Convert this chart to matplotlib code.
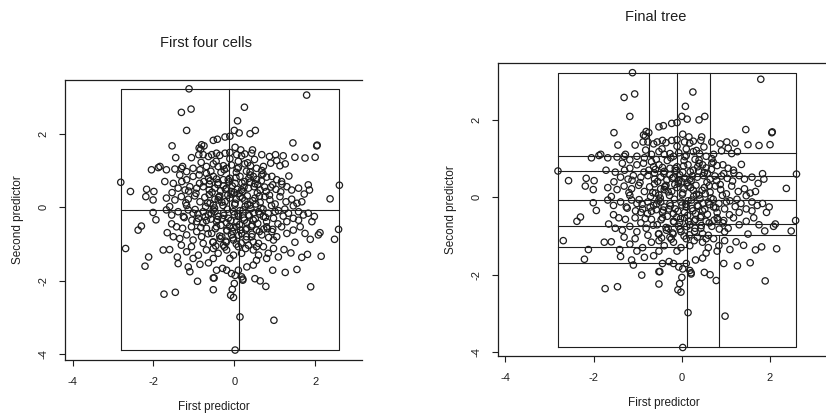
import matplotlib
matplotlib.use("Agg")
import matplotlib.pyplot as plt

# points (same sample in both panels)
x_out = [-1.12, 1.79, -1.31, -1.07, 0.25, 0.08, -1.18, 0.52, 0.39, 0.00, 0.12, -0.11, -0.23, -1.54, 1.45,
         2.04, 2.05, -0.52, -0.42, -0.81, -0.87, -1.45, -1.06, 1.50, 1.75, 2.00, 1.02, 1.21, 0.87, -2.05,
         -1.88, -1.84, -1.72, -1.31, -1.28, -2.81, -2.57, -2.17, -2.19, -1.99, -2.01, -1.54, 2.37, 2.60,
         1.83, 1.86, 1.73, -2.01, -1.94, -2.30, -2.38, -2.69, -2.12, -2.21, -1.76, -1.60, -1.66, -1.43,
         -1.41, -1.39, -1.14, -1.10, -1.74, -1.46, -0.91, -0.52, -0.50, -0.52, -0.05, -0.09, -0.02, 0.00,
         0.21, 0.21, 0.51, 0.64, 0.78, 0.14, 0.98, 0.02, 1.89, 0.95, 1.26, 1.55, 2.15, 1.67, 1.81, 1.40,
         1.23, 2.12, 2.08, 2.48, 2.58, 1.88, 1.92, 1.98]
y_out = [3.22, 3.05, 2.58, 2.67, 2.72, 2.35, 2.09, 2.09, 2.00, 2.09, 2.02, 1.93, 1.91, 1.67, 1.75,
         1.67, 1.69, 1.82, 1.85, 1.70, 1.61, 1.35, 1.35, 1.36, 1.34, 1.36, 1.43, 1.40, 1.38, 1.02,
         1.08, 1.11, 0.70, 1.06, 1.11, 0.68, 0.43, 0.49, 0.29, 0.43, 0.20, 0.40, 0.23, 0.60,
         0.61, 0.47, 0.36, -0.14, -0.34, -0.51, -0.62, -1.12, -1.35, -1.60, -1.16, -1.15, -0.69, -0.53,
         -1.35, -1.53, -1.62, -1.75, -2.36, -2.31, -2.01, -1.92, -1.92, -2.24, -2.23, -2.39, -2.45, -2.07,
         -1.98, -1.95, -1.94, -2.00, -2.15, -2.98, -3.07, -3.88, -2.16, -1.71, -1.77, -1.69, -1.33, -1.36,
         -1.28, -1.24, -1.15, -0.69, -0.75, -0.87, -0.60, -0.87, -0.39, -0.25]

x_core = [-0.83, -0.75, 0.02, 0.16, 0.45, -0.88, -0.77, -0.64, -0.56, -0.44, -0.36, -0.23, -0.11, 0.06, 0.18,
          0.26, 0.43, 0.68, -1.68, -1.47, -1.18, -1.02, -0.85, -0.69, -0.52, -0.40, -0.27, -0.19, -0.07, 0.10,
          0.26, 0.40, 0.55, 0.72, 0.90, 1.05, 1.13, 1.26,
          -1.35, -1.18, -1.02, -0.87, -0.75, -0.64, -0.52, -0.40, -0.27, -0.11, 0.02, 0.14, 0.26, 0.39, 0.55,
          0.68, 0.80, 0.93, 1.05, 1.17, 1.30, 1.42, 1.59, -1.51, -1.39, -1.22, -1.10, -0.93, -0.77, -0.62,
          -0.48, -0.34, -0.19, -0.07, 0.07, 0.21, 0.35, 0.49, 0.64, 0.79, 0.90, 1.03,
          -1.68, -1.47, -1.31, -1.14, -0.98, -0.85, -0.73, -0.60, -0.48, -0.36, -0.23, -0.11, 0.02, 0.14, 0.26,
          0.39, 0.51, 0.64, 0.76, 0.88, 1.01, 1.13, 1.28, 1.42, 1.55, 1.67, 1.46, -0.52, -1.18, -1.60,
          -1.68, -1.55, -1.39, -1.26, -1.14, -1.02, -0.89, -0.77, -0.64, -0.52, -0.40, -0.27, -0.15, -0.02,
          0.10, 0.22, 0.35, 0.47, 0.60, 0.72, 0.84, 0.97, 1.09, 1.21, 1.34, 1.46, 1.59, 1.71, 1.83, -0.93,
          -0.69, -0.44, -0.19, 0.06, 0.31, 0.80, 1.30, 1.59,
          -1.51, -1.28, -1.18, -1.06, -0.93, -0.81, -0.69, -0.56, -0.44, -0.31, -0.19, -0.07, 0.06, 0.18,
          0.31, 0.43, 0.55, 0.68, 0.80, 0.93, 1.05, 1.17, 1.30, 1.46, 1.63, 1.75, -1.02, -0.52, -0.02, 0.47,
          0.97,
          -1.31, -1.18, -1.06, -0.89, -0.77, -0.69, -0.52, -0.40, -0.27, -0.19, -0.02, 0.10, 0.18, 0.35, 0.47,
          0.60, 0.72, 0.84, 0.97, 1.09, -1.02, -0.52, -0.11, 0.55, 0.80,
          -0.85, -0.64, -0.44, -0.29, -0.19, -0.07, 0.02, 0.10, 0.18, 0.31, 0.47]
y_core = [1.58, 1.67, 1.63, 1.56, 1.56, 1.43, 1.43, 1.38, 1.43, 1.47, 1.41, 1.47, 1.49, 1.43, 1.40,
          1.45, 1.47, 1.43, 1.02, 1.04, 0.97, 1.06, 1.02, 1.11, 1.18, 1.11, 1.13, 1.06, 1.15, 1.08,
          1.18, 1.13, 1.06, 1.11, 1.20, 1.27, 1.13, 1.18,
          0.88, 0.75, 0.84, 0.88, 0.70, 0.79, 0.84, 0.67, 0.75, 0.79, 0.65, 0.84, 0.70, 0.88, 0.76,
          0.88, 0.82, 0.84, 0.75, 0.70, 0.56, 0.47, 0.52, 0.65, 0.52, 0.47, 0.56, 0.52, 0.56, 0.47,
          0.52, 0.45, 0.52, 0.43, 0.49, 0.43, 0.52, 0.56, 0.47, 0.43, 0.55, 0.49,
          0.25, 0.20, 0.29, 0.22, 0.31, 0.15, 0.27, 0.11, 0.22, 0.31, 0.15, 0.25, 0.11, 0.29, 0.18,
          0.06, 0.25, 0.13, 0.29, 0.20, 0.09, 0.29, 0.15, 0.22, 0.11, 0.15, 0.04, 0.06, 0.05, 0.02,
          -0.07, -0.21, -0.12, -0.25, -0.07, -0.16, -0.30, -0.12, -0.21, -0.07, -0.25, -0.16, -0.30, -0.12,
          -0.25, -0.07, -0.21, -0.35, -0.12, -0.25, -0.16, -0.30, -0.09, -0.24, -0.16, -0.30, -0.12, -0.21,
          -0.16, -0.39, -0.36, -0.39, -0.42, -0.39, -0.42, -0.39, -0.39, -0.35,
          -0.80, -0.57, -0.75, -0.53, -0.66, -0.80, -0.57, -0.71, -0.53, -0.80, -0.62, -0.75, -0.53, -0.71,
          -0.57, -0.80, -0.62, -0.75, -0.53, -0.66, -0.80, -0.53, -0.71, -0.62, -0.53, -0.71, -0.89, -0.94,
          -0.89, -0.94, -0.89,
          -1.03, -1.21, -1.07, -1.30, -0.98, -1.16, -1.12, -1.25, -1.03, -1.16, -1.30, -1.07, -1.25, -1.03,
          -1.16, -1.30, -1.07, -1.25, -1.12, -1.35, -1.39, -1.39, -1.39, -1.44, -1.39,
          -1.55, -1.51, -1.71, -1.66, -1.71, -1.80, -1.85, -1.71, -1.89, -1.62, -1.57]

# the dark middle of the cloud, where circles pile on top of each other
x_dense = [-0.62, -0.41, -0.28, -0.05, 0.12, 0.33, 0.58, 0.71, 0.44, 0.15, -0.12, -0.35, -0.58, -0.71, -0.95,
           -0.83, 0.92, 1.08, 0.85, 0.28, -0.20, -0.46, 0.05, 0.30, -0.33, -0.60, 0.62, 0.48, 0.20, -0.16,
           -0.48, -0.90, -1.20, -1.05, 0.38, 0.75, 1.15, 1.25, 0.95, 0.60, 0.05, -0.65, -0.30, 0.00, 0.25,
           -0.15, 0.68, 0.10, -0.45, -0.82, 0.50, -1.30, -1.55, -1.35, 1.50, 1.35, 0.00, 0.30, -0.05, -0.40,
           -0.55, -0.38, -0.22, -0.08, 0.05, 0.18, 0.32, 0.46, 0.57,
           -0.66, -0.49, -0.31, -0.17, 0.01, 0.14, 0.27, 0.41, 0.53, 0.66,
           -0.72, -0.57, -0.42, -0.26, -0.09, 0.09, 0.23, 0.37, 0.52, 0.63, 0.77,
           -0.47, -0.33, -0.18, -0.03, 0.13, 0.28, 0.42, 0.58, 0.73,
           -0.62, -0.44, -0.27, -0.13, 0.04, 0.19, 0.36, 0.51, 0.67,
           -0.36, -0.21, -0.04, 0.11, 0.29, 0.44,
           -0.58, -0.25, 0.07, 0.39,
           0.87, 1.01, -0.97, -1.13, 0.82, -0.78, 0.95, -0.86, -0.24, 0.17, 0.55, -0.53, 0.33, -0.11, 0.71,
           -0.69, 0.24, -0.39, 0.62, 1.18, -1.24, 0.47]
y_dense = [0.35, 0.62, 0.05, 0.58, 0.38, 0.08, 0.62, -0.05, -0.48, -0.62, -0.52, -0.85, -0.32, 0.02, 0.38,
           -0.55, 0.05, -0.45, -0.82, -1.12, -0.95, -1.05, 0.95, 0.98, 0.95, 0.72, 0.30, -0.15, 0.25, 0.33,
           -0.12, -0.18, 0.12, -0.35, 0.68, 0.55, 0.42, -0.05, -0.60, -0.98, -1.00, -0.72, -0.30, -0.20, -0.35,
           0.75, 1.00, 1.25, 1.25, 1.22, 1.30, 0.70, -0.45, -0.85, -0.95, 0.85, 0.40, -0.80, -0.65, 0.20,
           0.41, 0.28, 0.49, 0.36, 0.22, 0.47, 0.31, 0.18, 0.39,
           0.12, -0.02, 0.14, -0.05, 0.07, -0.09, 0.03, -0.04, 0.09, -0.02,
           -0.25, -0.17, -0.33, -0.22, -0.36, -0.18, -0.29, -0.23, -0.31, -0.19, -0.27,
           -0.58, -0.49, -0.64, -0.55, -0.47, -0.61, -0.52, -0.44, -0.59,
           0.63, 0.77, 0.58, 0.69, 0.81, 0.66, 0.79, 0.64, 0.72,
           -0.78, -0.92, -0.83, -0.76, -0.88, -0.73,
           0.98, 1.02, 1.05, 0.96,
           0.33, -0.12, -0.06, 0.44, -0.58, -0.42, 0.61, 0.65, -1.08, -0.97, -1.07, -0.95, 1.21, 1.32, 0.91,
           0.92, 0.55, 0.27, -0.66, 0.63, -0.28, 0.84]

xs = x_out + x_core + x_dense
ys = y_out + y_core + y_dense
xmin, xmax, ymin, ymax = min(xs), max(xs), min(ys), max(ys)

# tree splits: (x0, x1, y0, y1)
first_splits = [(xmin, xmax, -0.08, -0.08), (-0.12, -0.12, -0.08, ymax), (0.12, 0.12, ymin, -0.08)]
final_splits = [(xmin, xmax, -0.08, -0.08), (-0.11, -0.11, -0.08, ymax), (0.11, 0.11, ymin, -0.08),
                (xmin, -0.11, 1.07, 1.07), (xmin, -0.11, 0.69, 0.69), (-0.75, -0.75, 1.07, ymax),
                (-0.11, xmax, 1.14, 1.14), (-0.11, xmax, 0.56, 0.56), (0.64, 0.64, 1.14, ymax),
                (xmin, 0.11, -0.75, -0.75), (xmin, 0.11, -1.29, -1.29), (xmin, 0.11, -1.70, -1.70),
                (0.11, xmax, -0.69, -0.69), (0.11, xmax, -0.97, -0.97), (0.85, 0.85, ymin, -0.97)]

ink = '#1e1e1e'
plt.rcParams['font.family'] = ['Liberation Sans', 'DejaVu Sans']

fig = plt.figure(figsize=(8.26, 4.13), dpi=100)
W, H = 826, 413


def panel(box, xlim, ylim, splits, title, title_y):
    l, r, t, b = box
    ax = fig.add_axes([l / W, 1 - b / H, (r - l) / W, (b - t) / H])
    ax.set_xlim(*xlim)
    ax.set_ylim(*ylim)
    ax.spines['right'].set_visible(False)
    for s in ['left', 'top', 'bottom']:
        ax.spines[s].set_color(ink)
        ax.spines[s].set_linewidth(0.9)
    ax.plot([xmin, xmax, xmax, xmin, xmin], [ymin, ymin, ymax, ymax, ymin], color=ink, lw=0.8)
    for x0, x1, y0, y1 in splits:
        ax.plot([x0, x1], [y0, y1], color=ink, lw=0.8)
    ax.scatter(xs, ys, s=21, facecolors='none', edgecolors=ink, linewidths=0.9, zorder=3)
    ax.set_xticks([-4, -2, 0, 2])
    ax.set_yticks([-4, -2, 0, 2])
    ax.set_xticklabels(['-4', '-2', '0', '2'])
    ax.set_yticklabels(['-4', '-2', '0', '2'], rotation=90, va='center')
    ax.tick_params(colors=ink, labelsize=8, length=4, width=0.8, pad=8)
    ax.set_xlabel('First predictor', fontsize=8.5, color=ink, labelpad=10)
    ax.set_ylabel('Second predictor', fontsize=8.5, color=ink, labelpad=10)
    fig.text(((l + r) / 2 - 8) / W, 1 - title_y / H, title, fontsize=10.5, color=ink,
             ha='center', va='center')
    return ax


panel((65, 362, 80, 360), (-4.19, 3.16), (-4.15, 3.46), first_splits, 'First four cells', 43)
panel((498, 830, 63, 356), (-4.17, 3.36), (-4.10, 3.47), final_splits, 'Final tree', 17)

fig.savefig('out.png', dpi=100)
